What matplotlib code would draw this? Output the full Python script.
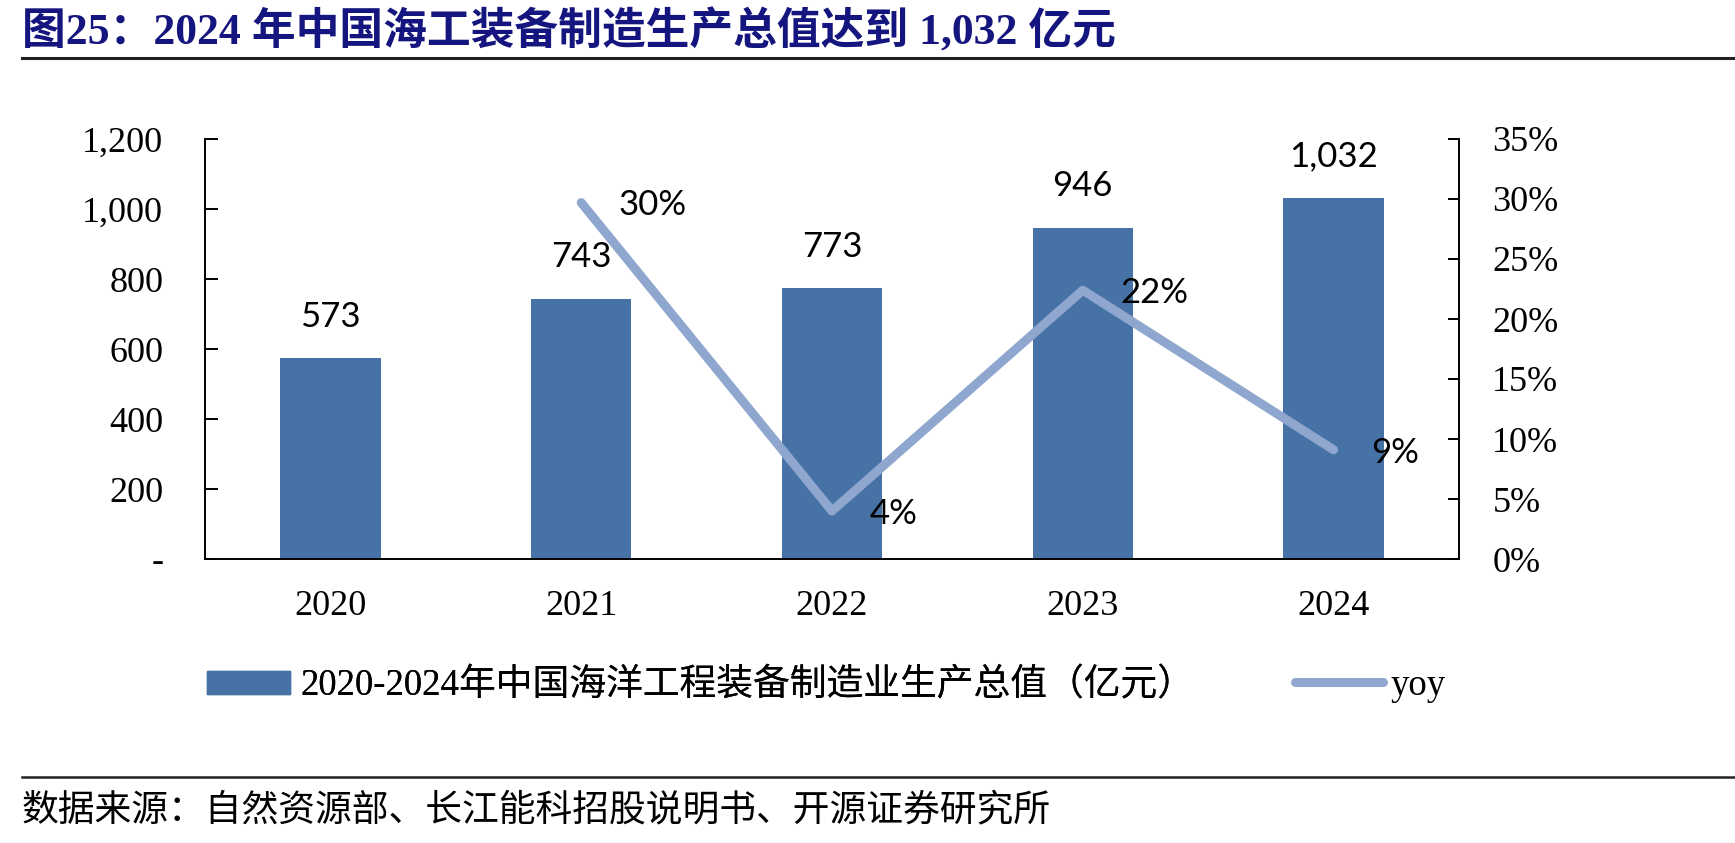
import numpy as np
import matplotlib
matplotlib.use('Agg')
import matplotlib.pyplot as plt
from matplotlib.patches import Patch
from matplotlib.lines import Line2D

years = ['2020', '2021', '2022', '2023', '2024']
output_value = [573, 743, 773, 946, 1032]          # 亿元
yoy_years = ['2021', '2022', '2023', '2024']
yoy = [29.7, 4.0, 22.4, 9.1]                       # %
yoy_labels = ['30%', '4%', '22%', '9%']

left_ticks = [0, 200, 400, 600, 800, 1000, 1200]
left_ticklabels = ['-', '200', '400', '600', '800', '1,000', '1,200']
right_ticks = [0, 5, 10, 15, 20, 25, 30, 35]

title = '图25：2024 年中国海工装备制造生产总值达到 1,032 亿元'
bar_name = '2020-2024年中国海洋工程装备制造业生产总值（亿元）'
line_name = 'yoy'
source = '数据来源：自然资源部、长江能科招股说明书、开源证券研究所'

bar_color = '#4672A6'
line_color = '#8FA7CF'
title_color = '#15157F'
serif = ['Liberation Serif', 'Noto Sans CJK SC']

fig = plt.figure(figsize=(17.35, 8.43), dpi=100)
ax = fig.add_axes([205 / 1735, 1 - 559 / 843, 1254 / 1735, 420 / 843])
ax2 = ax.twinx()

x = np.arange(len(years))
ax.bar(x, output_value, width=0.4, color=bar_color, zorder=2)
for xi, v in zip(x, output_value):
    ax.annotate('{:,}'.format(v), (xi, v), xytext=(0, 30), textcoords='offset points',
                ha='center', va='center', fontsize=25, family='Lato')

xl = [years.index(y) for y in yoy_years]
ax2.plot(xl, yoy, color=line_color, lw=6.5, solid_capstyle='round', solid_joinstyle='round')
for xi, v, t in zip(xl, yoy, yoy_labels):
    ax2.annotate(t, (xi, v), xytext=(27, -2), textcoords='offset points',
                 ha='left', va='center', fontsize=25, family='Lato')

ax.set_xlim(-0.5, len(years) - 0.5)
ax.set_ylim(0, 1200)
ax2.set_ylim(0, 35)

ax.set_xticks(x)
ax.set_xticklabels(years, family=serif, fontsize=26)
ax.set_yticks(left_ticks)
ax.set_yticklabels(left_ticklabels, family=serif, fontsize=26)
ax2.set_yticks(right_ticks)
ax2.set_yticklabels(['{}%'.format(t) for t in right_ticks], family=serif, fontsize=26)

ax.tick_params(axis='x', length=0, pad=22)
ax.tick_params(axis='y', direction='in', length=9, width=1.4, pad=30)
ax2.tick_params(axis='y', direction='in', length=8, width=1.4, pad=24)
for a in (ax, ax2):
    a.spines['top'].set_visible(False)
    for s in ('left', 'right', 'bottom'):
        a.spines[s].set_linewidth(1.4)
ax.spines['right'].set_visible(False)
ax2.spines['left'].set_visible(False)
ax2.spines['bottom'].set_visible(False)

# legend, two parts placed separately
leg1 = fig.legend(handles=[Patch(color=bar_color)], labels=[bar_name],
                  loc='center left', bbox_to_anchor=(207 / 1735, 1 - 686 / 843),
                  frameon=False, borderpad=0, borderaxespad=0, handlelength=2.25,
                  handleheight=0.6, handletextpad=0.3, prop={'family': serif, 'size': 26.5})
leg2 = fig.legend(handles=[Line2D([], [], color=line_color, lw=6.5, solid_capstyle='round')],
                  labels=[line_name],
                  loc='center left', bbox_to_anchor=(1295 / 1735, 1 - 686 / 843),
                  frameon=False, borderpad=0, borderaxespad=0, handlelength=2.4,
                  handletextpad=0.2, prop={'family': serif, 'size': 26.5})
fig.add_artist(leg1)

fig.text(22 / 1735, 1 - 31 / 843, title, fontsize=31.5, fontweight='bold', color=title_color,
         family=serif, ha='left', va='center')
fig.add_artist(Line2D([22 / 1735, 1], [1 - 58 / 843] * 2, color='#222222', lw=2.2))
fig.add_artist(Line2D([22 / 1735, 1], [1 - 777 / 843] * 2, color='#222222', lw=1.8))
fig.text(22 / 1735, 1 - 811 / 843, source, fontsize=26.5, family=serif, ha='left', va='center')

fig.savefig('out.png', dpi=100)
